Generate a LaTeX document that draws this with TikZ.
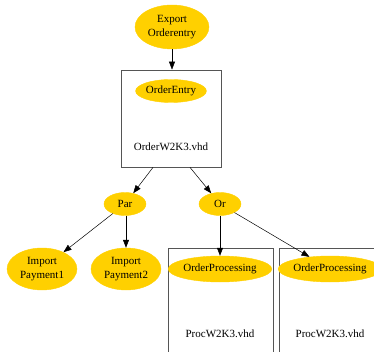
\documentclass[tikz,border=0pt]{standalone}
\usepackage{fontspec}
\setmainfont{Liberation Serif}
\usetikzlibrary{shapes.geometric,arrows.meta}
\definecolor{nodegold}{HTML}{FFD000}
\definecolor{boxgray}{HTML}{555555}
\tikzset{
  blob/.style={ellipse, fill=nodegold, draw=nodegold, inner sep=0pt, align=center, font=\fontsize{11}{13.2}\selectfont},
  cluster/.style={draw=boxgray, line width=0.8pt, inner sep=0pt},
  label/.style={inner sep=0pt, font=\fontsize{11}{13}\selectfont},
  arr/.style={-{Triangle[length=8pt,width=6pt]}, line width=0.5pt, black},
}
\begin{document}
\begin{tikzpicture}[x=1pt,y=-1pt]
\useasboundingbox (0,0) rectangle (374,352);
\clip (0,0) rectangle (374,352);
% clusters
\node[cluster, minimum width=100pt, minimum height=97pt] (box1) at (171,118.5) {};
\node[cluster, minimum width=105pt, minimum height=120pt] (box2) at (220.5,308) {};
\node[cluster, minimum width=105pt, minimum height=120pt] (box3) at (331.5,308) {};
\node[label] (f1) at (171,147) {OrderW2K3.vhd};
\node[label] (f2) at (220,334) {ProcW2K3.vhd};
\node[label] (f3) at (330,334) {ProcW2K3.vhd};
% nodes
\node[blob, minimum width=74pt, minimum height=44pt] (export) at (172,27) {Export\\Orderentry};
\node[blob, minimum width=69pt, minimum height=23pt] (entry) at (171,91) {OrderEntry};
\node[blob, minimum width=42pt, minimum height=23pt] (par) at (125,204) {Par};
\node[blob, minimum width=42pt, minimum height=23pt] (or) at (220,204) {Or};
\node[blob, minimum width=70pt, minimum height=42pt] (pay1) at (42,269) {Import\\Payment1};
\node[blob, minimum width=70pt, minimum height=42pt] (pay2) at (126,269) {Import\\Payment2};
\node[blob, minimum width=93pt, minimum height=26pt] (proc1) at (220,269) {OrderProcessing};
\node[blob, minimum width=93pt, minimum height=26pt] (proc2) at (330,269) {OrderProcessing};
% edges
\draw[arr] (export) -- (box1.north -| export);
\draw[arr] ([xshift=-18pt]box1.south) -- (par);
\draw[arr] ([xshift=19pt]box1.south) -- (or);
\draw[arr] (par) -- (pay1);
\draw[arr] (par.south -| pay2) -- (pay2);
\draw[arr] (or) -- (proc1);
\draw[arr] (or) -- (proc2);
\end{tikzpicture}
\end{document}
